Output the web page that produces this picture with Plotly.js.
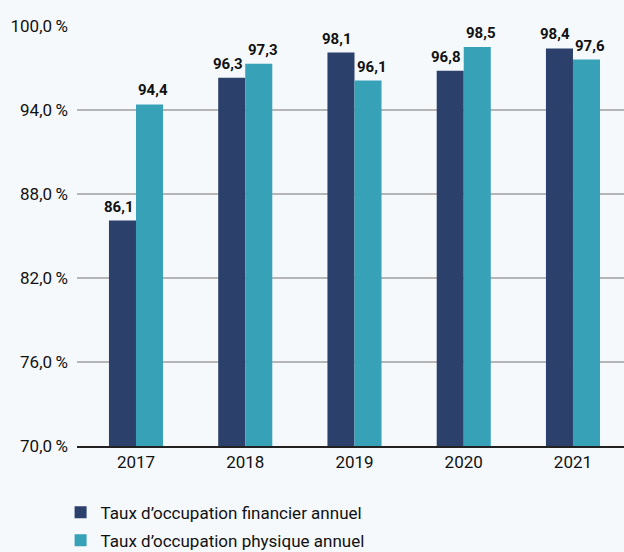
<!DOCTYPE html>
<html><head><meta charset="utf-8">
<script src="https://cdn.plot.ly/plotly-3.0.1.min.js"></script>
<style>html,body{margin:0;padding:0;background:#f6f9fc;}#chart{width:624px;height:552px;}</style>
</head><body><div id="chart"></div>
<script>
const years = ['2017','2018','2019','2020','2021'];
const financier = [86.1, 96.3, 98.1, 96.8, 98.4];
const physique = [94.4, 97.3, 96.1, 98.5, 97.6];
const seriesNames = ['Taux d\u2019occupation financier annuel','Taux d\u2019occupation physique annuel'];
const fmt = v => v.toFixed(1).replace('.', ',');
const FONT = 'Roboto, "DejaVu Sans", sans-serif';
const traces = [
  {type:'bar', x:years, y:financier, name:seriesNames[0], legendgroup:'a', marker:{color:'#2b416b'}},
  {type:'bar', x:years, y:physique, name:seriesNames[1], legendgroup:'b', marker:{color:'#37a1b8'}}
];
const half = 0.1235;
const annotations = [];
years.forEach((yr, i) => {
  annotations.push({x:i - half, y:financier[i], xref:'x', yref:'y', text:fmt(financier[i]),
    showarrow:false, yanchor:'bottom', yshift:3, xshift:-4,
    font:{family:FONT, size:15, color:'#111', weight:700}});
  annotations.push({x:i + half, y:physique[i], xref:'x', yref:'y', text:fmt(physique[i]),
    showarrow:false, yanchor:'bottom', yshift:3, xshift:4,
    font:{family:FONT, size:15, color:'#111', weight:700}});
});
const layout = {
  width:624, height:552,
  margin:{l:77, r:0, t:26, b:106},
  paper_bgcolor:'#f6f9fc', plot_bgcolor:'rgba(0,0,0,0)',
  font:{family:FONT, size:17, color:'#111'},
  separators:',.',
  barmode:'group', bargap:0.505, bargroupgap:0,
  showlegend:true,
  legend:{orientation:'v', xref:'paper', yref:'container', x:-0.03, xanchor:'left',
          y:0.104, yanchor:'top',
          font:{family:FONT, size:17, color:'#111'}, tracegroupgap:3,
          bgcolor:'rgba(0,0,0,0)'},
  annotations:annotations,
  xaxis:{type:'category', range:[-0.54, 4.467], showline:true, linecolor:'#222', linewidth:1.5,
         ticks:'', tickfont:{size:17}, showgrid:false},
  yaxis:{range:[70,100], dtick:6, tick0:70, tickformat:'.1f', ticksuffix:'\u2009%',
         showgrid:true, gridcolor:'#b5b5b5', gridwidth:1.5, zeroline:false,
         ticks:'', ticklabelstandoff:8, tickfont:{size:17}, fixedrange:true}
};
Plotly.newPlot('chart', traces, layout, {displayModeBar:false, staticPlot:true});
</script></body></html>
